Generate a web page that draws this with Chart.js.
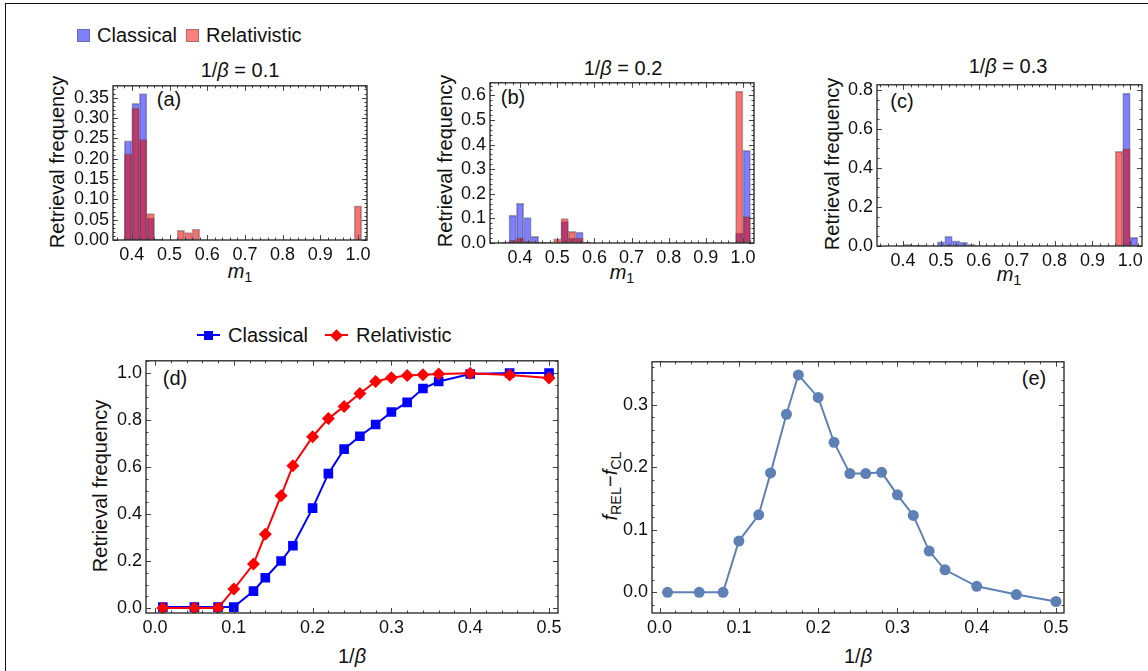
<!DOCTYPE html>
<html>
<head>
<meta charset="utf-8">
<script src="https://cdn.jsdelivr.net/npm/chart.js@4.4.1/dist/chart.umd.min.js"></script>
<style>
  body { margin: 0; background: #fff; }
  #fig { position: relative; width: 1148px; height: 671px; overflow: hidden; background: #fff;
         font-family: "Liberation Sans", Arial, sans-serif; color: #111; }
  #fig canvas { position: absolute; }
  .frame { position: absolute; left: 5px; top: 3px; right: -10px; bottom: -10px;
           border-left: 1.5px solid #111; border-top: 1.5px solid #111; }
  .lbl { position: absolute; transform: translate(-50%, -50%); white-space: nowrap; font-size: 20px; line-height: 1; }
  .rot { transform: translate(-50%, -50%) rotate(-90deg); }
  .lbl sub { font-size: 0.72em; vertical-align: -0.3em; line-height: 0; }
  .legend { position: absolute; display: flex; align-items: center; font-size: 20px; height: 22px; white-space: nowrap; }
  .sw { width: 11px; height: 11px; border: 1px solid rgba(90,90,90,0.5); }
  .mk { position: relative; width: 23px; height: 2px; }
  .mk i { position: absolute; left: 7px; top: -3.5px; width: 9px; height: 9px; }
</style>
</head>
<body>
<div id="fig">
  <div class="frame"></div>

  <div class="legend" style="left:77px; top:24px;">
    <span class="sw" style="background:rgba(0,0,255,0.5)"></span>
    <span style="margin-left:7px">Classical</span>
    <span class="sw" style="background:rgba(255,0,0,0.5); margin-left:9px"></span>
    <span style="margin-left:7px">Relativistic</span>
  </div>

  <div class="lbl" style="left:240px; top:70px;">1/<i>β</i> = 0.1</div>
  <div class="lbl" style="left:623px; top:68px;">1/<i>β</i> = 0.2</div>
  <div class="lbl" style="left:1008px; top:66px;">1/<i>β</i> = 0.3</div>

  <div class="lbl rot" style="left:57px; top:162px;">Retrieval frequency</div>
  <div class="lbl rot" style="left:445px; top:161px;">Retrieval frequency</div>
  <div class="lbl rot" style="left:832px; top:164px;">Retrieval frequency</div>

  <div class="lbl" style="left:240px; top:271px;"><i>m</i><sub>1</sub></div>
  <div class="lbl" style="left:622px; top:272px;"><i>m</i><sub>1</sub></div>
  <div class="lbl" style="left:1009px; top:274px;"><i>m</i><sub>1</sub></div>

  <div class="lbl" style="left:169px; top:99px;">(a)</div>
  <div class="lbl" style="left:513px; top:97px;">(b)</div>
  <div class="lbl" style="left:902px; top:101px;">(c)</div>
  <div class="lbl" style="left:175px; top:378px;">(d)</div>
  <div class="lbl" style="left:1034px; top:378px;">(e)</div>

  <div class="legend" style="left:197px; top:324px;">
    <span class="mk" style="background:#00f"><i style="background:#00f"></i></span>
    <span style="margin-left:8px">Classical</span>
    <span class="mk" style="background:#f00; margin-left:17px"><i style="background:#f00; transform:rotate(45deg)"></i></span>
    <span style="margin-left:8px">Relativistic</span>
  </div>

  <div class="lbl rot" style="left:100px; top:486px;">Retrieval frequency</div>
  <div class="lbl" style="left:352px; top:656px;">1/<i>β</i></div>
  <div class="lbl rot" style="left:610px; top:486px;"><i>f</i><sub>REL</sub>−<i>f</i><sub>CL</sub></div>
  <div class="lbl" style="left:858px; top:656px;">1/<i>β</i></div>
</div>

<script>
// histogram bins (centres), all 0.02 wide
const binWidth = 0.02;

const binsA = [0.39, 0.41, 0.43, 0.45, 0.47, 0.53, 0.55, 0.57, 1.00];
const classicalA = [0.244, 0.336, 0.360, 0.054, 0.002, null, null, null, null];
const relativisticA = [0.212, 0.324, 0.247, 0.065, null, 0.024, 0.018, 0.027, 0.084];

const binsB = [0.36, 0.38, 0.40, 0.42, 0.44, 0.46, 0.48, 0.50, 0.52, 0.54, 0.56, 0.58, 0.99, 1.01];
const classicalB = [0.003, 0.113, 0.161, 0.103, 0.027, 0.003, null, null, 0.087, 0.020, 0.044, null, 0.040, 0.377];
const relativisticB = [null, 0.011, 0.021, 0.007, 0.004, null, 0.002, 0.017, 0.099, 0.047, 0.021, 0.004, 0.617, 0.107];

const binsC = [0.41, 0.43, 0.45, 0.50, 0.52, 0.54, 0.56, 0.58, 0.97, 0.99, 1.01];
const classicalC = [0.008, 0.003, 0.003, 0.022, 0.050, 0.027, 0.020, 0.008, null, 0.783, 0.044];
const relativisticC = [null, null, null, null, null, null, null, null, 0.485, 0.498, null];

// retrieval vs 1/beta
const invBeta = [0.01, 0.05, 0.08, 0.10, 0.125, 0.14, 0.16, 0.175, 0.20, 0.22, 0.24, 0.26, 0.28, 0.30, 0.32, 0.34, 0.36, 0.40, 0.45, 0.50];
const classicalD = [0.004, 0.004, 0.004, 0.004, 0.072, 0.129, 0.200, 0.265, 0.425, 0.572, 0.676, 0.731, 0.781, 0.834, 0.875, 0.934, 0.964, 0.996, 1.000, 1.000];
const relativisticD = [0, 0, 0, 0.081, 0.187, 0.314, 0.478, 0.606, 0.729, 0.806, 0.858, 0.913, 0.964, 0.980, 0.989, 0.993, 0.996, 0.999, 0.992, 0.979];
const diffE = [0, 0, 0, 0.082, 0.124, 0.191, 0.285, 0.348, 0.312, 0.240, 0.190, 0.190, 0.192, 0.156, 0.123, 0.066, 0.036, 0.0095, -0.0037, -0.0148];

// tick labels
const mTicks = [0.4, 0.5, 0.6, 0.7, 0.8, 0.9, 1.0];
const betaTicks = [0.0, 0.1, 0.2, 0.3, 0.4, 0.5];
const yTicksA = [0, 0.05, 0.10, 0.15, 0.20, 0.25, 0.30, 0.35];
const yTicksB = [0, 0.1, 0.2, 0.3, 0.4, 0.5, 0.6];
const yTicksC = [0, 0.2, 0.4, 0.6, 0.8];
const yTicksD = [0, 0.2, 0.4, 0.6, 0.8, 1.0];
const yTicksE = [0, 0.1, 0.2, 0.3];

// plot boxes on the page and axis ranges
const boxes = {
  a: { L: 113, T: 83, R: 367, B: 240, x: [0.35, 1.024], y: [0, 0.379] },
  b: { L: 490, T: 80, R: 754, B: 243, x: [0.319, 1.0296], y: [0, 0.651] },
  c: { L: 877, T: 82, R: 1142, B: 246, x: [0.331, 1.031], y: [0, 0.826] },
  d: { L: 146, T: 358, R: 558, B: 613, x: [-0.0114, 0.5114], y: [-0.021, 1.052] },
  e: { L: 652, T: 359, R: 1064, B: 613, x: [-0.0096, 0.5101], y: [-0.0332, 0.369] }
};
const ML = 72, MT = 12, MR = 26, MB = 40;
const tickFont = { size: 18 };

Chart.defaults.font.family = '"Liberation Sans", Arial, sans-serif';
Chart.defaults.color = '#111';

// frame with inward major/minor ticks on all four sides
const frameTicks = {
  id: 'frameTicks',
  afterDatasetsDraw(chart, args, opts) {
    const { ctx, chartArea: a, scales: { x, y } } = chart;
    const marks = (scale, minor) => {
      const major = scale.ticks.map(t => t.value);
      const out = major.map(v => [v, 5]);
      const k0 = Math.ceil(scale.min / minor - 1e-9), k1 = Math.floor(scale.max / minor + 1e-9);
      for (let k = k0; k <= k1; k++) {
        const v = k * minor;
        if (!major.some(m => Math.abs(m - v) < minor / 10)) out.push([v, 2.5]);
      }
      return out;
    };
    ctx.save();
    ctx.strokeStyle = '#444';
    ctx.lineWidth = 1;
    ctx.beginPath();
    for (const [v, len] of marks(x, opts.xMinor)) {
      const px = Math.round(x.getPixelForValue(v)) + 0.5;
      ctx.moveTo(px, a.bottom); ctx.lineTo(px, a.bottom - len);
      ctx.moveTo(px, a.top); ctx.lineTo(px, a.top + len);
    }
    for (const [v, len] of marks(y, opts.yMinor)) {
      const py = Math.round(y.getPixelForValue(v)) + 0.5;
      ctx.moveTo(a.left, py); ctx.lineTo(a.left + len, py);
      ctx.moveTo(a.right, py); ctx.lineTo(a.right - len, py);
    }
    ctx.stroke();
    ctx.strokeStyle = '#222';
    ctx.lineWidth = 1.3;
    ctx.strokeRect(a.left, a.top, a.right - a.left, a.bottom - a.top);
    ctx.restore();
  }
};

function makeCanvas(box) {
  const c = document.createElement('canvas');
  c.width = box.R - box.L + ML + MR;
  c.height = box.B - box.T + MT + MB;
  c.style.left = (box.L - ML) + 'px';
  c.style.top = (box.T - MT) + 'px';
  document.getElementById('fig').appendChild(c);
  return c;
}

function axes(box, xTicks, yTicks, xDigits, yDigits) {
  const common = {
    type: 'linear',
    offset: false,
    grid: { display: false, drawTicks: false, offset: false },
    border: { display: false }
  };
  return {
    x: Object.assign({}, common, {
      min: box.x[0], max: box.x[1],
      afterFit: s => { s.height = MB; },
      afterBuildTicks: s => { s.ticks = xTicks.map(v => ({ value: v })); },
      ticks: { padding: 4, font: tickFont, maxRotation: 0, autoSkip: false, callback: v => v.toFixed(xDigits) }
    }),
    y: Object.assign({}, common, {
      min: box.y[0], max: box.y[1],
      afterFit: s => { s.width = ML; },
      afterBuildTicks: s => { s.ticks = yTicks.map(v => ({ value: v })); },
      ticks: { padding: 4, font: tickFont, autoSkip: false, callback: v => v.toFixed(yDigits) }
    })
  };
}

function baseOptions(box, xTicks, yTicks, xDigits, yDigits, xMinor, yMinor) {
  return {
    responsive: false,
    animation: false,
    layout: { padding: { left: 0, top: MT, right: MR, bottom: 0 } },
    plugins: { legend: { display: false }, tooltip: { enabled: false }, frameTicks: { xMinor, yMinor } },
    scales: axes(box, xTicks, yTicks, xDigits, yDigits)
  };
}

function histogram(box, bins, cl, rel, yTicks, yDigits, yMinor) {
  const th = binWidth * (box.R - box.L) / (box.x[1] - box.x[0]);
  const ds = (label, vals, fill, order) => ({
    label, order,
    data: bins.map((b, i) => ({ x: b, y: vals[i] })),
    backgroundColor: fill,
    borderColor: 'rgba(70,70,70,0.45)',
    borderWidth: 1,
    borderSkipped: false,
    grouped: false,
    barThickness: th
  });
  new Chart(makeCanvas(box), {
    type: 'bar',
    data: { datasets: [
      ds('Relativistic', rel, 'rgba(240,0,0,0.55)', 0),
      ds('Classical', cl, 'rgba(0,0,255,0.5)', 1)
    ] },
    options: baseOptions(box, mTicks, yTicks, 1, yDigits, 0.02, yMinor),
    plugins: [frameTicks]
  });
}

histogram(boxes.a, binsA, classicalA, relativisticA, yTicksA, 2, 0.01);
histogram(boxes.b, binsB, classicalB, relativisticB, yTicksB, 1, 0.02);
histogram(boxes.c, binsC, classicalC, relativisticC, yTicksC, 1, 0.05);

const pts = vals => invBeta.map((x, i) => ({ x, y: vals[i] }));

new Chart(makeCanvas(boxes.d), {
  type: 'line',
  data: { datasets: [
    { label: 'Relativistic', order: 0, data: pts(relativisticD), borderColor: '#f00', backgroundColor: '#f00',
      borderWidth: 2, tension: 0, pointStyle: 'rectRot', pointRadius: 6.5, pointBorderWidth: 0 },
    { label: 'Classical', order: 1, data: pts(classicalD), borderColor: '#00f', backgroundColor: '#00f',
      borderWidth: 2, tension: 0, pointStyle: 'rect', pointRadius: 6.8, pointBorderWidth: 0 }
  ] },
  options: baseOptions(boxes.d, betaTicks, yTicksD, 1, 1, 0.02, 0.05),
  plugins: [frameTicks]
});

new Chart(makeCanvas(boxes.e), {
  type: 'line',
  data: { datasets: [
    { label: 'f_REL - f_CL', data: pts(diffE), borderColor: 'rgb(94,129,181)', backgroundColor: 'rgb(94,129,181)',
      borderWidth: 2, tension: 0, pointStyle: 'circle', pointRadius: 5.5, pointBorderWidth: 0 }
  ] },
  options: baseOptions(boxes.e, betaTicks, yTicksE, 1, 1, 0.02, 0.02),
  plugins: [frameTicks]
});
</script>
</body>
</html>
